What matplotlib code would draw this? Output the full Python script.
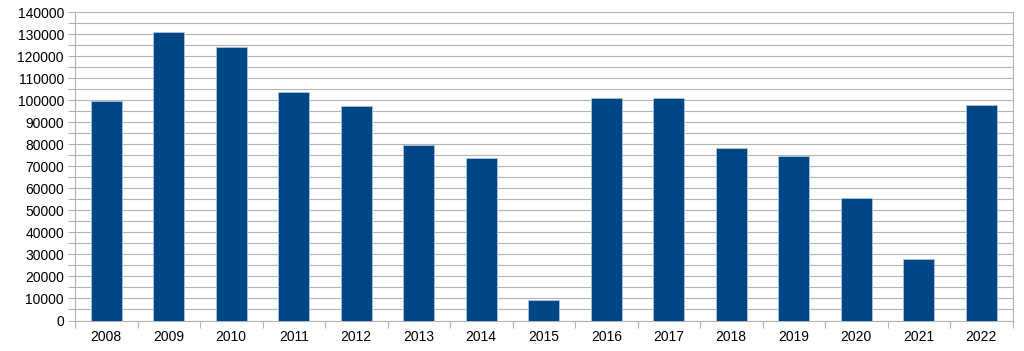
import matplotlib
matplotlib.use("Agg")
import matplotlib.pyplot as plt
from matplotlib.ticker import MultipleLocator

years = ["2008", "2009", "2010", "2011", "2012", "2013", "2014", "2015",
         "2016", "2017", "2018", "2019", "2020", "2021", "2022"]
values = [99700, 130700, 123900, 103700, 97300, 79700, 73800, 9400,
          101000, 100900, 78300, 74700, 55600, 28000, 97600]

plt.rcParams['font.family'] = ['Liberation Sans', 'DejaVu Sans']

fig = plt.figure(figsize=(10.24, 3.51), dpi=100)
ax = fig.add_axes([75/1024, 1 - 320.5/351, (1012.5-75)/1024, (320.5-12)/351])

x = list(range(len(years)))
ax.bar(x, values, width=0.5, color="#004586", edgecolor="#a9c4e0", linewidth=0.6, zorder=3)

ax.set_xlim(-0.5, len(years) - 0.5)
ax.set_ylim(0, 140000)
ax.yaxis.set_major_locator(MultipleLocator(10000))
ax.yaxis.set_minor_locator(MultipleLocator(5000))
ax.grid(axis="y", which="both", color="#b3b3b3", linewidth=0.8, zorder=0)

ax.set_xticks([i - 0.5 for i in range(len(years) + 1)])
ax.set_xticklabels([])
ax.set_xticks(x, minor=True)
ax.set_xticklabels(years, minor=True)
ax.tick_params(axis="x", which="major", length=5, color="#b3b3b3", width=0.8)
ax.tick_params(axis="x", which="minor", length=0, labelsize=10, colors="#000000", pad=7)
ax.tick_params(axis="y", which="major", length=5, color="#b3b3b3", width=0.8, labelsize=10, pad=3)
ax.tick_params(axis="y", which="minor", length=5, color="#b3b3b3", width=0.8)

for s in ["left", "right", "bottom", "top"]:
    ax.spines[s].set_color("#b3b3b3")
    ax.spines[s].set_linewidth(0.8)

fig.savefig("out.png", dpi=100)
